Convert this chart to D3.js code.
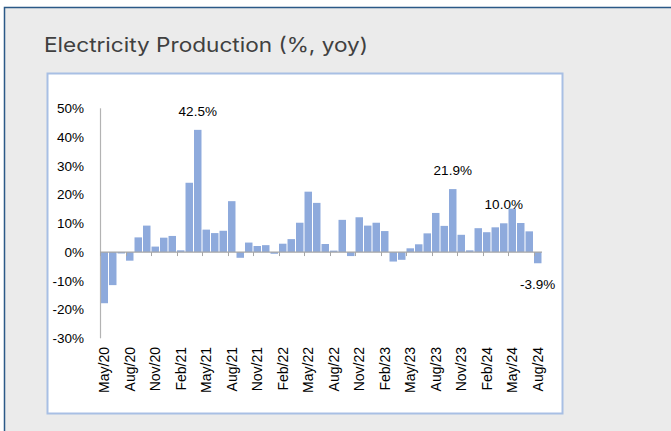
<!DOCTYPE html>
<html>
<head>
<meta charset="utf-8">
<script src="https://cdn.jsdelivr.net/npm/d3@7"></script>
<style>
  html, body { margin: 0; padding: 0; background: #fff; }
  svg { display: block; }
</style>
</head>
<body>
<script>
var months = [
  "May/20","Jun/20","Jul/20","Aug/20","Sep/20","Oct/20","Nov/20","Dec/20",
  "Jan/21","Feb/21","Mar/21","Apr/21","May/21","Jun/21","Jul/21","Aug/21","Sep/21","Oct/21","Nov/21","Dec/21",
  "Jan/22","Feb/22","Mar/22","Apr/22","May/22","Jun/22","Jul/22","Aug/22","Sep/22","Oct/22","Nov/22","Dec/22",
  "Jan/23","Feb/23","Mar/23","Apr/23","May/23","Jun/23","Jul/23","Aug/23","Sep/23","Oct/23","Nov/23","Dec/23",
  "Jan/24","Feb/24","Mar/24","Apr/24","May/24","Jun/24","Jul/24","Aug/24"
];

// electricity production, % yoy
var production = [
  -17.8, -11.5, -0.5, -3.0, 5.1, 9.2, 1.9, 5.0,
  5.6, 0.6, 24.1, 42.5, 7.8, 6.6, 7.4, 17.7, -2.0, 3.3, 2.1, 2.4,
  -0.6, 2.9, 4.5, 10.2, 21.0, 17.1, 2.8, 0.5, 11.2, -1.4, 12.1, 9.2,
  10.2, 7.3, -3.3, -2.7, 1.3, 2.7, 6.5, 13.6, 9.1, 21.9, 6.0, 0.6,
  8.3, 6.9, 8.6, 10.0, 15.1, 10.1, 7.2, -3.9
];

var yTicks = [-30, -20, -10, 0, 10, 20, 30, 40, 50];
var labelled = ["Apr/21", "Oct/23", "Apr/24", "Aug/24"];

var width = 671, height = 431;
var chartFont = "'Liberation Sans', Arial, sans-serif";

var data = months.map(function(m, i) { return {month: m, value: production[i]}; });

var svg = d3.select("body").append("svg")
  .attr("width", width)
  .attr("height", height);

// panel background + frame
svg.append("rect")
  .attr("x", 4).attr("y", 7)
  .attr("width", width - 4).attr("height", height - 7)
  .attr("fill", "#ebebeb");
svg.append("path")
  .attr("d", "M4.5," + height + "V7.5H" + width)
  .attr("fill", "none")
  .attr("stroke", "#2b5987")
  .attr("stroke-width", 1.5);

svg.append("text")
  .attr("x", 44).attr("y", 52)
  .attr("font-family", "Inter, 'Open Sans', sans-serif")
  .attr("font-size", 20)
  .attr("fill", "#404040")
  .attr("textLength", 324)
  .attr("lengthAdjust", "spacingAndGlyphs")
  .text("Electricity Production (%, yoy)");

// white chart box
svg.append("rect")
  .attr("x", 47.5).attr("y", 73.5)
  .attr("width", 515).attr("height", 340)
  .attr("fill", "#fff")
  .attr("stroke", "#a8bfe4")
  .attr("stroke-width", 2);

var x = d3.scaleBand()
  .domain(months)
  .range([100, 542])
  .paddingInner(0.12)
  .paddingOuter(0.06);

var y = d3.scaleLinear()
  .domain([-30, 50])
  .range([338.3, 108.3]);

// y labels
svg.append("g")
  .selectAll("text")
  .data(yTicks)
  .enter().append("text")
  .attr("x", 84)
  .attr("y", function(d) { return y(d); })
  .attr("dy", "0.35em")
  .attr("text-anchor", "end")
  .attr("font-family", chartFont)
  .attr("font-size", 13.5)
  .attr("fill", "#000")
  .text(function(d) { return d + "%"; });

// bars
svg.append("g")
  .selectAll("rect")
  .data(data)
  .enter().append("rect")
  .attr("x", function(d) { return x(d.month); })
  .attr("y", function(d) { return y(Math.max(0, d.value)); })
  .attr("width", x.bandwidth())
  .attr("height", function(d) { return Math.abs(y(d.value) - y(0)); })
  .attr("fill", "#8eaadc");

// axes
svg.append("line")
  .attr("x1", 100.5).attr("x2", 100.5)
  .attr("y1", y(50)).attr("y2", y(-30))
  .attr("stroke", "#b3b3b3").attr("stroke-width", 1.2);

svg.append("line")
  .attr("x1", 100).attr("x2", 542)
  .attr("y1", y(0)).attr("y2", y(0))
  .attr("stroke", "#a6a6a6").attr("stroke-width", 1.2);

var step = x.step();
var tickMonths = months.filter(function(m, i) { return i % 3 === 0; });

svg.append("g")
  .selectAll("line")
  .data(tickMonths)
  .enter().append("line")
  .attr("x1", function(d) { return Math.round(100 + months.indexOf(d) * step) + 0.5; })
  .attr("x2", function(d) { return Math.round(100 + months.indexOf(d) * step) + 0.5; })
  .attr("y1", y(0)).attr("y2", y(0) + 4)
  .attr("stroke", "#a6a6a6");

svg.append("g")
  .selectAll("text")
  .data(tickMonths)
  .enter().append("text")
  .attr("transform", function(d) {
    return "translate(" + (x(d) + x.bandwidth() / 2) + ",347) rotate(-90)";
  })
  .attr("dy", "0.35em")
  .attr("text-anchor", "end")
  .attr("font-family", chartFont)
  .attr("font-size", 14)
  .attr("fill", "#000")
  .text(function(d) { return d; });

// data labels
svg.append("g")
  .selectAll("text")
  .data(data.filter(function(d) { return labelled.indexOf(d.month) >= 0; }))
  .enter().append("text")
  .attr("x", function(d) { return x(d.month) + x.bandwidth() / 2; })
  .attr("y", function(d) { return d.value >= 0 ? y(d.value) - 19 : y(d.value) + 21; })
  .attr("dy", "0.35em")
  .attr("text-anchor", "middle")
  .attr("font-family", chartFont)
  .attr("font-size", 13.5)
  .attr("fill", "#000")
  .text(function(d) { return d.value.toFixed(1) + "%"; });
</script>
</body>
</html>
